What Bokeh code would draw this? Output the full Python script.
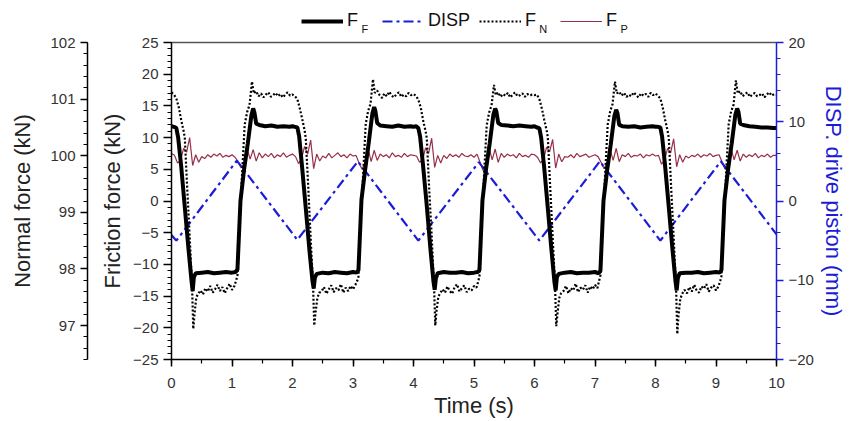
from bokeh.plotting import figure
from bokeh.layouts import column
from bokeh.models import (Range1d, LinearAxis, SingleIntervalTicker, FixedTicker,
                          Legend, LegendItem, Label, CustomJSTickFormatter)
from bokeh.embed import file_html
from bokeh.resources import INLINE

FONT = "Liberation Sans"
BLUE = "#1c1cd6"
MAROON = "#963049"

# ---------------- data ----------------
cycle_starts = [0.0, 2.0, 4.0, 6.0, 8.0]

# Friction force F_F (kN) - sample times relative to each 2 s cycle
ff_rel_t = [0.00, 0.04, 0.08, 0.11, 0.16, 0.22, 0.28, 0.33, 0.35, 0.37, 0.40, 0.50, 0.60, 0.70,
            0.80, 0.90, 1.00, 1.06, 1.09, 1.14, 1.20, 1.26, 1.32, 1.35, 1.37, 1.40, 1.45, 1.55,
            1.65, 1.75, 1.85, 1.95]
ff_cycle0 = [11.8, 11.7, 11.5, 10.0, 5.5, -1.0, -7.5, -12.5, -14.2, -12.0, -11.4, -11.3, -11.2, -11.4,
             -11.3, -11.2, -11.3, -11.2, -10.8, 0.0, 5.0, 9.0, 13.5, 14.6, 14.0, 12.2, 12.0, 11.8,
             11.9, 11.7, 11.8, 11.7]
ff_cycle1 = [11.8, 11.7, 11.6, 10.2, 5.2, -1.2, -7.8, -12.6, -13.8, -12.1, -11.5, -11.3, -11.4, -11.2,
             -11.3, -11.4, -11.2, -11.3, -10.9, 0.2, 4.9, 9.2, 13.8, 14.8, 14.2, 12.3, 11.9, 11.8,
             11.7, 11.9, 11.7, 11.8]
ff_cycle2 = [11.7, 11.8, 11.5, 10.1, 5.4, -0.8, -7.6, -12.7, -14.0, -12.2, -11.4, -11.2, -11.3, -11.3,
             -11.2, -11.4, -11.3, -11.2, -10.9, 0.1, 5.1, 9.1, 13.6, 14.6, 14.1, 12.3, 12.0, 11.9,
             11.8, 11.9, 11.8, 11.7]
ff_cycle3 = [11.8, 11.6, 11.5, 10.0, 5.3, -1.1, -7.7, -12.8, -14.1, -12.0, -11.5, -11.3, -11.2, -11.4,
             -11.3, -11.3, -11.2, -11.4, -11.0, 0.0, 4.8, 8.9, 13.4, 14.4, 13.9, 12.0, 11.8, 11.7,
             11.8, 11.6, 11.7, 11.8]
ff_cycle4 = [11.7, 11.7, 11.6, 10.1, 5.4, -1.0, -7.6, -12.6, -14.1, -12.1, -11.4, -11.3, -11.3, -11.2,
             -11.4, -11.3, -11.2, -11.3, -10.9, 0.1, 5.0, 9.1, 13.6, 14.6, 14.1, 12.2, 12.0, 11.8,
             11.7, 11.6, 11.6, 11.5]
ff_end = 11.5

# Normal force F_N (kN)
fn_rel_t = [0.00, 0.04, 0.08, 0.12, 0.16, 0.20, 0.22, 0.26, 0.30, 0.34, 0.36, 0.38, 0.41, 0.44,
            0.48, 0.52, 0.56, 0.60, 0.64, 0.68, 0.72, 0.76, 0.80, 0.84, 0.88, 0.92, 0.96, 1.00, 1.04, 1.07,
            1.09, 1.12, 1.17, 1.21, 1.25, 1.29, 1.33, 1.36, 1.40,
            1.44, 1.48, 1.52, 1.56, 1.60, 1.64, 1.68, 1.72, 1.76, 1.80, 1.84, 1.88, 1.92, 1.96]
fn_cycle0 = [101.12, 101.08, 101.01, 100.86, 100.63, 100.44, 100.31, 99.42, 98.58, 97.69, 96.94, 97.20, 97.50, 97.56,
             97.62, 97.55, 97.66, 97.60, 97.70, 97.58, 97.64, 97.72, 97.61, 97.68, 97.57, 97.66, 97.74, 97.63, 97.70, 97.80,
             97.88, 98.68, 99.75, 100.55, 100.77, 100.90, 101.31, 101.10, 101.14,
             101.05, 101.10, 101.03, 101.08, 101.12, 101.04, 101.07, 101.11, 101.05, 101.09, 101.03, 101.08, 101.12, 101.06]
fn_cycle1 = [101.08, 101.05, 101.00, 100.84, 100.65, 100.45, 100.30, 99.45, 98.55, 97.70, 97.00, 97.22, 97.48, 97.58,
             97.60, 97.68, 97.56, 97.64, 97.71, 97.59, 97.66, 97.62, 97.73, 97.58, 97.67, 97.61, 97.70, 97.64, 97.72, 97.79,
             97.86, 98.70, 99.72, 100.56, 100.79, 100.92, 101.35, 101.11, 101.15,
             101.07, 101.02, 101.10, 101.05, 101.13, 101.06, 101.03, 101.09, 101.12, 101.04, 101.08, 101.05, 101.11, 101.07]
fn_cycle2 = [101.09, 101.06, 100.99, 100.85, 100.62, 100.43, 100.31, 99.40, 98.60, 97.68, 97.00, 97.25, 97.51, 97.57,
             97.64, 97.58, 97.69, 97.61, 97.56, 97.68, 97.73, 97.60, 97.66, 97.71, 97.59, 97.65, 97.62, 97.70, 97.67, 97.78,
             97.87, 98.66, 99.74, 100.54, 100.76, 100.89, 101.25, 101.07, 101.12,
             101.04, 101.09, 101.06, 101.11, 101.03, 101.08, 101.12, 101.05, 101.07, 101.10, 101.04, 101.09, 101.06, 101.08]
fn_cycle3 = [101.07, 101.08, 101.00, 100.84, 100.64, 100.45, 100.33, 99.43, 98.57, 97.69, 96.99, 97.21, 97.49, 97.57,
             97.61, 97.70, 97.57, 97.66, 97.62, 97.74, 97.59, 97.67, 97.63, 97.71, 97.58, 97.69, 97.64, 97.72, 97.66, 97.80,
             97.89, 98.69, 99.73, 100.55, 100.78, 100.91, 101.31, 101.10, 101.13,
             101.06, 101.11, 101.04, 101.08, 101.05, 101.12, 101.07, 101.03, 101.10, 101.06, 101.09, 101.04, 101.11, 101.07]
fn_cycle4 = [101.10, 101.06, 101.01, 100.85, 100.63, 100.44, 100.31, 99.41, 98.56, 97.67, 96.85, 97.18, 97.47, 97.56,
             97.63, 97.57, 97.68, 97.60, 97.72, 97.62, 97.58, 97.69, 97.65, 97.73, 97.60, 97.67, 97.71, 97.62, 97.69, 97.79,
             97.87, 98.67, 99.74, 100.56, 100.78, 100.90, 101.33, 101.10, 101.14,
             101.05, 101.09, 101.12, 101.04, 101.08, 101.11, 101.05, 101.07, 101.10, 101.03, 101.08, 101.12, 101.06, 101.09]
fn_end = 101.08

# Piston force F_P (kN, friction axis)
fp_rel_t = [0.00, 0.05, 0.10, 0.15, 0.20, 0.25, 0.30, 0.35, 0.40, 0.45, 0.50, 0.55, 0.60, 0.65, 0.70,
            0.75, 0.80, 0.85, 0.90, 0.95, 1.00, 1.05, 1.10, 1.15, 1.20, 1.25, 1.30, 1.35, 1.40, 1.45,
            1.50, 1.55, 1.60, 1.65, 1.70, 1.75, 1.80, 1.85, 1.90, 1.95]
fp_cycle0 = [7.5, 7.2, 6.0, 6.4, 8.3, 7.7, 10.0, 5.6, 7.3, 6.1, 7.0, 6.7, 7.3, 6.9, 7.4, 7.1, 7.5, 6.9, 7.2, 7.0,
             7.3, 6.9, 6.2, 5.2, 5.9, 8.2, 6.6, 8.1, 6.3, 7.6, 6.8, 7.4, 7.0, 7.5, 6.8, 7.3, 7.0, 7.6, 6.9, 7.2]
fp_cycle1 = [7.4, 7.0, 5.9, 6.7, 8.6, 7.4, 9.6, 5.1, 7.4, 6.3, 7.1, 6.8, 7.5, 6.8, 7.2, 7.6, 7.0, 7.3, 6.8, 7.4,
             7.1, 7.2, 6.0, 5.0, 6.1, 8.3, 6.2, 8.0, 6.4, 7.4, 7.0, 7.3, 6.8, 7.6, 7.0, 7.2, 6.9, 7.5, 7.0, 7.3]
fp_cycle2 = [7.2, 7.1, 6.1, 6.5, 8.4, 7.5, 9.9, 5.3, 7.2, 6.0, 7.2, 6.7, 7.4, 7.0, 7.3, 6.9, 7.5, 7.1, 7.0, 7.3,
             6.9, 7.4, 6.1, 4.8, 5.8, 8.4, 6.5, 8.2, 6.1, 7.5, 6.9, 7.4, 7.1, 7.3, 6.8, 7.5, 7.0, 7.2, 6.9, 7.4]
fp_cycle3 = [7.3, 6.9, 6.0, 6.6, 8.5, 7.8, 9.7, 5.2, 7.4, 6.2, 7.0, 6.9, 7.3, 6.8, 7.5, 7.0, 7.2, 7.4, 6.9, 7.1,
             7.3, 7.0, 6.1, 5.1, 6.0, 8.1, 6.4, 8.3, 6.2, 7.3, 7.0, 7.5, 6.9, 7.2, 7.1, 7.4, 6.8, 7.3, 7.1, 7.4]
fp_cycle4 = [7.1, 7.2, 5.8, 6.5, 8.3, 7.6, 9.8, 5.4, 7.3, 6.1, 7.1, 6.8, 7.2, 7.0, 7.4, 6.9, 7.3, 7.1, 7.5, 7.0,
             7.2, 7.3, 6.2, 5.0, 5.9, 8.2, 6.5, 8.0, 6.3, 7.4, 6.9, 7.3, 7.0, 7.5, 6.8, 7.2, 7.0, 7.4, 6.9, 7.2]
fp_end = 7.2

# Drive-piston displacement DISP (mm) - turning points of the triangle wave
disp_t = [0.0, 0.08, 1.08, 2.08, 3.08, 4.08, 5.08, 6.08, 7.08, 8.08, 9.08, 10.0]
disp_v = [-4.3, -5.0, 5.1, -4.9, 5.0, -5.0, 4.9, -5.0, 5.0, -5.0, 5.0, -4.2]

legend_labels = ["F", "DISP", "F", "F"]
legend_subs = ["F", None, "N", "P"]


def assemble(rel_t, cycles, end_value):
    ts, vs = [], []
    for t0, vals in zip(cycle_starts, cycles):
        ts += [round(t0 + r, 3) for r in rel_t]
        vs += list(vals)
    ts.append(10.0)
    vs.append(end_value)
    return ts, vs


ff_t, ff_v = assemble(ff_rel_t, [ff_cycle0, ff_cycle1, ff_cycle2, ff_cycle3, ff_cycle4], ff_end)
fn_t, fn_v = assemble(fn_rel_t, [fn_cycle0, fn_cycle1, fn_cycle2, fn_cycle3, fn_cycle4], fn_end)
fp_t, fp_v = assemble(fp_rel_t, [fp_cycle0, fp_cycle1, fp_cycle2, fp_cycle3, fp_cycle4], fp_end)

# line styles shared by the plot and its legend
STYLES = [
    dict(line_color="black", line_width=4),
    dict(line_color=BLUE, line_width=2.2, line_dash="10 4 3 4"),
    dict(line_color="black", line_width=2.2, line_dash="2 2"),
    dict(line_color=MAROON, line_width=1.2),
]

LEFT, RIGHT = 171, 77
LEG_H = 33

# ---------------- legend strip (top) ----------------
lg = figure(width=853, height=LEG_H, x_range=Range1d(0, 10), y_range=Range1d(0, LEG_H),
            output_backend="svg", toolbar_location=None,
            min_border_left=LEFT, min_border_right=RIGHT, min_border_top=0, min_border_bottom=0)
lg.axis.visible = False
lg.grid.visible = False
lg.outline_line_color = None
lg.background_fill_color = "white"
lg.border_fill_color = "white"
nan = float("nan")
lg_renderers = [lg.line([nan], [nan], **st) for st in STYLES]
legend = Legend(items=[LegendItem(label=lab, renderers=[r]) for lab, r in zip(legend_labels, lg_renderers)],
                orientation="horizontal", location=(130, 2),
                glyph_width=42, glyph_height=18, label_height=18, label_width=26,
                label_standoff=4, spacing=9, padding=0, margin=0,
                label_text_font=FONT, label_text_font_size="18px", label_text_color="#111111",
                border_line_color=None, background_fill_alpha=0)
lg.add_layout(legend, "center")
sub_x = {"F": 3.14, "N": 6.08, "P": 7.42}
for s in legend_subs:
    if s is None:
        continue
    lg.add_layout(Label(x=sub_x[s], y=5.0, text=s, text_font=FONT, text_font_size="11px",
                        text_color="#111111", text_baseline="alphabetic", text_align="left"))

# ---------------- main figure ----------------
p = figure(width=853, height=421 - LEG_H, x_range=Range1d(0, 10), y_range=Range1d(-25, 25),
           output_backend="svg", toolbar_location=None,
           min_border_left=LEFT, min_border_right=RIGHT, min_border_top=42 - LEG_H, min_border_bottom=62)
p.extra_y_ranges = {"normal": Range1d(96.4, 102), "disp": Range1d(-20, 20)}
p.xgrid.visible = False
p.ygrid.visible = False
p.outline_line_color = None
p.background_fill_color = "white"
p.border_fill_color = "white"


def style_axis(ax, color="black", label_color="#222222", tick_label_color="#333333"):
    ax.axis_line_color = color
    ax.axis_line_width = 1.5
    ax.major_tick_line_color = color
    ax.minor_tick_line_color = color
    ax.major_tick_line_width = 1.5
    ax.minor_tick_line_width = 1.2
    ax.major_tick_in = 0
    ax.minor_tick_in = 0
    ax.major_tick_out = 8
    ax.minor_tick_out = 4
    ax.major_label_text_font = FONT
    ax.major_label_text_font_size = "15px"
    ax.major_label_text_color = tick_label_color
    ax.axis_label_text_font = FONT
    ax.axis_label_text_font_size = "22px"
    ax.axis_label_text_font_style = "normal"
    ax.axis_label_text_color = label_color


# friction axis (inner left)
fric = p.yaxis[0]
fric.ticker = SingleIntervalTicker(interval=5, num_minor_ticks=5)
fric.axis_label = "Friction force (kN)"
style_axis(fric)
fric.major_label_standoff = 5
fric.axis_label_standoff = 5

# spacer between the two left axes: one white tick, blank label, no line
spacer = LinearAxis(y_range_name="normal", ticker=FixedTicker(ticks=[99.0]),
                    formatter=CustomJSTickFormatter(code="return ''"),
                    axis_line_color=None, major_tick_out=10, major_tick_in=0,
                    minor_tick_out=0, minor_tick_in=0, major_label_standoff=0,
                    major_tick_line_color="white", minor_tick_line_color=None)
p.add_layout(spacer, "left")

# normal-force axis (outer left)
norm_ax = LinearAxis(y_range_name="normal", ticker=SingleIntervalTicker(interval=1, num_minor_ticks=5),
                     axis_label="Normal force (kN)")
style_axis(norm_ax)
norm_ax.major_tick_out = 7
norm_ax.major_label_standoff = 5
norm_ax.axis_label_standoff = 12
p.add_layout(norm_ax, "left")

# displacement axis (right)
disp_ax = LinearAxis(y_range_name="disp", ticker=SingleIntervalTicker(interval=10, num_minor_ticks=5),
                     axis_label="DISP. drive piston (mm)")
style_axis(disp_ax, color=BLUE, label_color=BLUE)
disp_ax.major_tick_out = 7
disp_ax.major_label_standoff = 5
disp_ax.axis_label_standoff = 4
p.add_layout(disp_ax, "right")

# time axis
xax = p.xaxis[0]
xax.ticker = SingleIntervalTicker(interval=1, num_minor_ticks=2)
xax.axis_label = "Time (s)"
style_axis(xax)
xax.major_tick_out = 7
xax.major_label_standoff = 11
xax.axis_label_standoff = 2

# plain top frame line
top_ax = LinearAxis(ticker=FixedTicker(ticks=[]), axis_line_color="#555555", axis_line_width=1.5,
                    major_tick_out=0, major_tick_in=0, minor_tick_out=0, minor_tick_in=0,
                    major_label_standoff=0)
p.add_layout(top_ax, "above")

# ---------------- series ----------------
p.line(fp_t, fp_v, **STYLES[3])
p.line(disp_t, disp_v, y_range_name="disp", **STYLES[1])
p.line(fn_t, fn_v, y_range_name="normal", **STYLES[2])
p.line(ff_t, ff_v, **STYLES[0])

layout = column(lg, p, spacing=0)
open("out.html", "w").write(file_html(layout, INLINE))
